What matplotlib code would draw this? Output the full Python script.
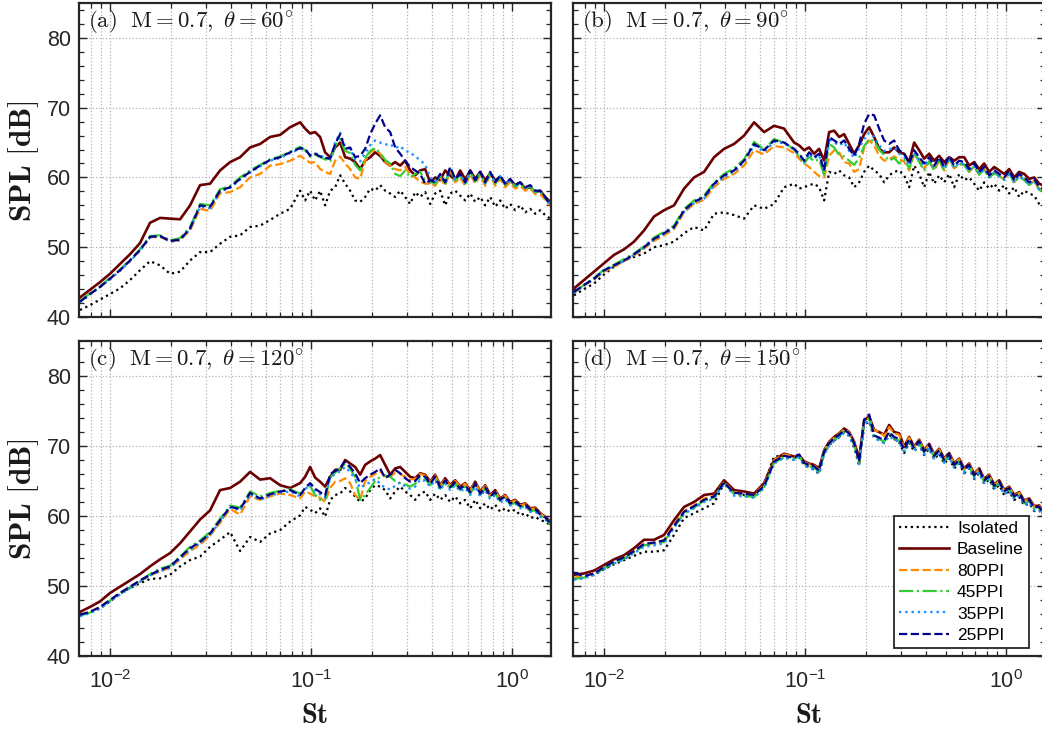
import numpy as np
import matplotlib
matplotlib.use("Agg")
import matplotlib.pyplot as plt
from matplotlib.ticker import MultipleLocator, LogLocator

# Strouhal number grid (shared by all panels)
st = [0.00709, 0.00795, 0.00892, 0.0100, 0.01121, 0.01258, 0.01410, 0.01581, 0.01773, 0.01989,
      0.02230, 0.02501, 0.02804, 0.03145, 0.03526, 0.03955, 0.04435, 0.04973, 0.05577, 0.06254,
      0.07013, 0.07864, 0.08819,
      0.09339, 0.09889, 0.1047, 0.1109, 0.1174, 0.1244, 0.1317, 0.1395, 0.1477, 0.1564,
      0.1656, 0.1754, 0.1857, 0.1967, 0.2083, 0.2205, 0.2335, 0.2473, 0.2619, 0.2773,
      0.2937, 0.3110, 0.3293, 0.3487, 0.3693, 0.3911, 0.4141, 0.4386, 0.4644, 0.4918,
      0.5208, 0.5515, 0.5840, 0.6184, 0.6549, 0.6935, 0.7343, 0.7776, 0.8235, 0.8720,
      0.9234, 0.9778, 1.0355, 1.0965, 1.161, 1.230, 1.302, 1.379, 1.460, 1.546]

# (a) theta = 60
iso_a = [41.0, 41.7, 42.5, 43.3, 44.1, 45.3, 46.7, 48.0, 47.4, 46.2, 46.5, 48.1, 49.3, 49.3, 50.5, 51.5, 51.7, 52.9, 53.1, 53.9, 54.8, 55.5, 58.1,
         56.7, 58.1, 56.7, 58.1, 56.0, 58.1, 58.6, 60.3, 59.1, 58.1, 56.7, 56.5, 57.2, 58.4, 58.1, 58.9, 58.1, 57.7, 57.2, 58.1, 57.2, 56.2, 57.9, 57.2, 57.9,
         56.2, 57.7, 58.1, 56.0, 57.7, 58.1, 57.4, 56.7, 57.7, 56.5, 57.2, 56.0, 57.2, 55.8, 56.7, 55.5, 56.2, 55.3, 56.0, 55.0, 55.5, 54.8, 55.3, 54.6, 54.1]
base_a = [42.8, 43.9, 45.0, 46.2, 47.6, 49.0, 50.6, 53.5, 54.2, 54.1, 54.0, 56.0, 58.9, 59.1, 61.0, 62.2, 62.9, 64.3, 64.8, 65.8, 66.1, 67.2, 67.9,
          67.0, 66.3, 66.5, 65.8, 63.6, 62.9, 64.3, 65.0, 62.9, 62.7, 62.2, 61.2, 62.4, 62.9, 63.6, 63.1, 62.2, 61.7, 62.2, 61.7, 62.4, 61.0, 60.3, 61.0, 61.2,
          59.3, 60.0, 59.6, 61.0, 60.3, 59.6, 61.0, 59.7, 61.0, 59.8, 60.8, 59.6, 60.6, 59.6, 60.0, 59.1, 59.6, 58.9, 59.3, 58.4, 58.6, 57.9, 58.1, 57.2, 56.5]
ppi80_a = [42.2, 43.3, 44.3, 45.5, 46.7, 48.1, 49.6, 51.4, 51.5, 50.8, 51.0, 52.4, 55.5, 55.2, 57.7, 57.9, 58.6, 60.0, 60.5, 61.7, 61.9, 62.4, 63.1,
           62.6, 62.1, 62.2, 61.2, 60.8, 60.5, 62.4, 63.0, 62.0, 61.2, 60.0, 59.8, 62.4, 63.6, 64.0, 63.4, 62.2, 61.7, 61.2, 61.0, 61.5, 60.4, 60.0, 59.4, 59.1,
           59.1, 58.8, 60.0, 58.8, 61.0, 59.3, 60.0, 58.8, 60.5, 59.1, 60.3, 58.8, 60.3, 58.8, 59.8, 58.6, 59.3, 58.4, 58.8, 58.1, 58.4, 57.6, 57.6, 56.8, 55.9]
ppi45_a = [42.3, 43.4, 44.4, 45.6, 46.8, 48.2, 49.7, 51.6, 51.7, 51.0, 51.3, 52.9, 56.2, 56.0, 58.3, 58.8, 60.0, 61.0, 61.8, 62.6, 63.0, 63.7, 64.4,
           63.9, 63.0, 63.3, 62.9, 62.6, 62.3, 64.5, 65.5, 63.8, 63.5, 61.8, 61.0, 62.8, 63.8, 64.2, 63.5, 62.5, 62.0, 60.5, 60.2, 61.0, 60.0, 60.5, 60.8, 59.5,
           59.4, 59.1, 60.3, 59.1, 61.3, 59.6, 60.3, 59.1, 60.8, 59.4, 60.6, 59.1, 60.6, 59.1, 60.1, 58.9, 59.6, 58.7, 59.1, 58.4, 58.7, 57.9, 57.9, 57.0, 56.2]
ppi35_a = [42.1, 43.2, 44.3, 45.4, 46.6, 48.0, 49.5, 51.4, 51.6, 50.8, 51.0, 52.6, 55.8, 55.6, 58.0, 58.5, 59.7, 60.7, 61.6, 62.4, 62.8, 63.5, 64.1,
           64.0, 63.2, 63.5, 63.1, 62.9, 62.6, 65.0, 66.4, 64.3, 64.1, 62.6, 62.3, 63.5, 64.6, 65.3, 65.0, 64.7, 64.8, 64.2, 64.5, 63.8, 63.6, 63.0, 62.5, 61.8,
           60.0, 59.4, 60.4, 59.2, 61.3, 59.7, 60.4, 59.2, 60.9, 59.5, 60.7, 59.2, 60.6, 59.2, 60.2, 59.0, 59.7, 58.8, 59.2, 58.5, 58.8, 58.0, 58.0, 57.1, 56.0]
ppi25_a = [42.2, 43.3, 44.3, 45.5, 46.7, 48.1, 49.6, 51.5, 51.6, 50.9, 51.1, 52.7, 56.0, 55.8, 58.1, 58.6, 59.8, 60.8, 61.7, 62.5, 62.9, 63.6, 64.2,
           64.1, 63.1, 63.4, 63.0, 62.8, 62.7, 64.8, 66.2, 64.1, 64.3, 62.9, 63.1, 64.1, 66.2, 67.7, 68.9, 67.2, 66.5, 64.3, 63.4, 62.4, 61.5, 61.0, 60.5, 59.1,
           59.6, 59.3, 60.5, 59.3, 61.5, 59.8, 60.5, 59.3, 61.0, 59.6, 60.8, 59.3, 60.8, 59.3, 60.3, 59.1, 59.8, 58.9, 59.3, 58.6, 58.9, 58.1, 58.1, 57.2, 56.0]

# (b) theta = 90
iso_b = [43.1, 44.0, 44.8, 46.1, 47.2, 48.1, 48.6, 49.1, 50.0, 50.3, 50.8, 52.0, 52.9, 52.4, 54.8, 55.0, 54.6, 54.1, 56.0, 55.5, 56.2, 58.6, 59.1,
         58.4, 58.6, 58.9, 59.1, 58.6, 56.7, 60.8, 60.5, 61.0, 60.3, 60.0, 58.6, 59.3, 60.8, 61.7, 61.0, 60.5, 59.3, 60.3, 60.8, 61.0, 60.3, 58.6, 61.7, 60.5,
         58.6, 60.8, 59.1, 60.3, 59.3, 60.5, 58.6, 60.5, 59.6, 60.0, 59.1, 58.1, 59.3, 58.4, 59.1, 58.1, 58.9, 57.7, 58.6, 57.2, 58.1, 57.7, 57.4, 56.2, 55.8]
base_b = [44.1, 45.3, 46.5, 47.7, 48.9, 49.7, 50.8, 52.4, 54.4, 55.3, 56.0, 58.4, 60.0, 60.8, 62.9, 64.1, 64.8, 66.0, 67.9, 66.5, 67.4, 67.0, 65.0,
          64.6, 63.9, 64.3, 63.4, 64.1, 62.4, 66.5, 66.7, 65.8, 66.2, 64.8, 63.4, 64.6, 66.2, 67.2, 65.8, 64.1, 63.6, 63.6, 64.3, 63.6, 63.4, 62.2, 65.0, 63.9,
          62.7, 63.4, 62.4, 63.1, 62.2, 62.9, 62.4, 62.9, 62.9, 61.7, 62.2, 61.2, 62.0, 60.8, 61.5, 61.0, 60.5, 61.2, 60.0, 60.8, 60.5, 59.8, 60.0, 59.1, 58.8]
ppi80_b = [43.5, 44.5, 45.4, 46.5, 47.2, 48.0, 48.8, 49.8, 50.9, 51.7, 52.6, 55.0, 56.2, 56.8, 58.6, 59.8, 60.5, 61.7, 63.9, 63.3, 64.5, 64.3, 63.5,
           62.7, 62.0, 61.5, 60.8, 60.2, 60.0, 63.1, 63.9, 63.6, 62.2, 62.0, 60.8, 61.2, 64.3, 65.3, 64.6, 63.1, 62.4, 62.6, 63.0, 62.6, 62.3, 61.0, 63.3, 62.5,
           61.3, 62.5, 61.1, 62.3, 61.0, 62.5, 61.3, 61.9, 61.8, 60.8, 61.6, 60.4, 61.2, 60.0, 60.7, 60.2, 59.7, 60.7, 59.3, 60.2, 59.7, 59.0, 59.5, 58.3, 58.0]
ppi45_b = [43.5, 44.6, 45.6, 46.8, 47.5, 48.3, 49.1, 50.1, 51.4, 52.2, 53.1, 55.5, 56.7, 57.4, 59.3, 60.5, 61.3, 62.6, 65.1, 64.0, 65.5, 65.0, 64.0,
           63.0, 62.0, 63.0, 62.3, 62.6, 60.3, 64.8, 64.3, 63.2, 63.0, 62.4, 61.8, 62.8, 64.5, 65.5, 65.2, 64.0, 63.2, 62.4, 62.8, 62.0, 62.6, 61.3, 63.5, 62.2,
           61.0, 62.3, 61.0, 62.5, 61.0, 62.8, 61.3, 62.0, 61.8, 60.8, 61.6, 60.4, 61.1, 60.0, 60.6, 60.2, 59.6, 60.6, 59.2, 60.1, 59.6, 58.9, 59.4, 58.2, 58.0]
ppi35_b = [43.4, 44.5, 45.4, 46.6, 47.3, 48.0, 48.9, 49.9, 51.1, 51.9, 52.8, 55.1, 56.3, 57.0, 58.9, 60.1, 60.8, 62.2, 64.6, 63.7, 65.1, 64.9, 64.0,
           63.2, 62.2, 63.4, 62.7, 63.2, 60.8, 65.5, 65.0, 64.6, 65.0, 63.8, 62.8, 64.2, 65.5, 66.4, 65.8, 64.6, 63.8, 64.0, 64.3, 63.4, 63.0, 61.7, 63.6, 62.6,
           61.7, 62.6, 61.4, 62.6, 61.2, 62.8, 61.4, 62.1, 61.9, 60.9, 61.7, 60.5, 61.2, 60.0, 60.7, 60.2, 59.7, 60.7, 59.3, 60.2, 59.7, 59.0, 59.5, 58.3, 58.0]
ppi25_b = [43.6, 44.6, 45.5, 46.7, 47.4, 48.1, 49.0, 50.0, 51.2, 52.0, 52.9, 55.3, 56.5, 57.2, 59.1, 60.3, 61.0, 62.4, 64.8, 63.9, 65.3, 65.0, 64.1,
           63.4, 62.4, 63.6, 62.9, 63.4, 61.0, 65.8, 65.3, 64.8, 65.3, 64.1, 63.1, 64.8, 67.7, 69.1, 68.9, 67.0, 65.3, 64.8, 65.3, 63.9, 63.4, 62.0, 63.9, 62.9,
           62.0, 62.9, 61.7, 62.9, 61.5, 63.1, 61.7, 62.4, 62.2, 61.2, 62.0, 60.8, 61.5, 60.3, 61.0, 60.5, 60.0, 61.0, 59.6, 60.5, 60.0, 59.3, 59.8, 58.6, 58.3]

# (c) theta = 120
iso_c = [45.9, 46.2, 46.8, 47.8, 48.9, 49.7, 50.4, 51.0, 51.1, 51.6, 52.8, 53.7, 54.2, 55.6, 56.6, 57.7, 55.0, 57.0, 56.3, 57.5, 58.0, 59.2, 60.1,
         61.3, 60.9, 60.4, 61.1, 59.9, 62.3, 63.0, 63.2, 64.0, 63.5, 62.8, 62.0, 62.5, 63.7, 64.4, 64.2, 63.7, 62.5, 63.5, 64.2, 63.5, 63.0, 62.3, 63.2, 63.5,
         62.3, 63.2, 62.3, 63.0, 62.0, 62.8, 61.8, 62.3, 61.1, 62.3, 61.1, 61.8, 60.9, 61.6, 60.6, 61.1, 60.6, 60.9, 60.1, 60.4, 59.7, 59.9, 59.4, 59.2, 58.7]
base_c = [46.3, 47.0, 47.8, 49.0, 49.9, 50.8, 51.7, 52.8, 53.8, 54.7, 56.1, 57.8, 59.5, 60.8, 63.7, 64.0, 64.9, 66.3, 65.2, 65.4, 64.4, 64.0, 64.7,
          65.6, 67.0, 65.5, 64.9, 64.2, 65.6, 66.6, 66.6, 68.0, 67.5, 67.0, 65.9, 67.3, 67.8, 68.2, 68.7, 67.3, 65.9, 66.8, 67.0, 66.3, 65.6, 65.4, 66.1, 65.9,
          64.9, 65.9, 64.4, 65.4, 64.4, 65.1, 64.2, 64.7, 63.7, 64.9, 63.5, 64.4, 63.0, 63.7, 62.5, 63.0, 62.0, 62.3, 61.6, 61.8, 61.1, 61.2, 60.4, 59.9, 59.2]
ppi80_c = [45.9, 46.3, 47.0, 48.0, 49.0, 49.9, 50.7, 51.5, 52.1, 52.6, 53.8, 55.0, 55.9, 57.2, 59.0, 61.0, 60.2, 62.8, 62.3, 62.8, 63.2, 63.0, 62.5,
           63.5, 63.2, 62.8, 62.6, 62.0, 64.0, 64.9, 65.0, 65.4, 64.7, 63.0, 62.3, 65.0, 65.6, 66.0, 66.4, 65.6, 65.6, 66.2, 66.0, 65.6, 65.2, 65.3, 66.0, 65.8,
           64.8, 65.8, 64.3, 65.3, 64.3, 65.0, 64.1, 64.6, 63.6, 64.8, 63.4, 64.3, 62.9, 63.6, 62.4, 62.9, 61.9, 62.2, 61.5, 61.7, 61.0, 61.1, 60.3, 59.9, 59.1]
ppi45_c = [45.8, 46.2, 46.9, 47.9, 48.9, 49.8, 50.7, 51.7, 52.5, 52.9, 54.2, 55.6, 56.5, 57.7, 59.6, 61.5, 61.2, 63.5, 62.8, 63.3, 63.6, 63.8, 63.2,
           63.9, 64.3, 63.0, 62.3, 62.3, 65.5, 66.2, 66.8, 67.5, 66.8, 65.5, 62.3, 63.0, 64.0, 65.0, 65.6, 65.8, 65.6, 65.0, 64.7, 64.5, 64.2, 64.6, 65.4, 65.3,
           64.4, 65.3, 63.9, 64.9, 63.9, 64.6, 63.7, 64.2, 63.2, 64.4, 63.0, 63.9, 62.6, 63.2, 62.1, 62.6, 61.6, 61.9, 61.2, 61.4, 60.7, 60.8, 60.0, 59.6, 58.8]
ppi35_c = [45.7, 46.1, 46.8, 47.8, 48.8, 49.7, 50.6, 51.5, 52.1, 52.6, 53.9, 55.2, 56.1, 57.3, 59.2, 61.2, 60.8, 63.1, 62.3, 62.9, 63.3, 63.5, 62.8,
           63.8, 64.5, 63.6, 63.1, 62.6, 65.5, 66.0, 66.4, 67.0, 66.3, 65.3, 64.0, 64.5, 64.8, 65.3, 64.6, 64.0, 63.8, 64.3, 64.8, 64.2, 63.9, 64.2, 65.2, 65.0,
           64.2, 65.1, 63.7, 64.7, 63.7, 64.4, 63.5, 64.0, 63.0, 64.2, 62.8, 63.7, 62.4, 63.0, 61.9, 62.4, 61.5, 61.8, 61.1, 61.3, 60.6, 60.7, 59.9, 59.5, 58.8]
ppi25_c = [45.9, 46.3, 47.0, 48.0, 49.0, 49.9, 50.8, 51.6, 52.3, 52.8, 54.1, 55.4, 56.3, 57.5, 59.4, 61.3, 61.0, 63.3, 62.5, 63.1, 63.5, 63.7, 63.0,
           64.0, 64.7, 63.9, 63.4, 62.9, 66.0, 66.4, 66.9, 67.8, 67.0, 66.1, 64.7, 65.4, 65.9, 66.3, 66.8, 65.4, 65.9, 66.6, 66.1, 65.4, 64.9, 65.0, 65.8, 65.6,
           64.6, 65.6, 64.1, 65.1, 64.1, 64.8, 63.9, 64.4, 63.4, 64.6, 63.2, 64.1, 62.8, 63.4, 62.3, 62.8, 61.8, 62.1, 61.4, 61.6, 60.9, 61.0, 60.2, 59.8, 59.0]

# (d) theta = 150
iso_d = [51.0, 51.2, 51.6, 52.4, 53.1, 53.7, 54.3, 54.9, 54.9, 55.1, 57.3, 59.7, 60.4, 61.1, 61.8, 64.7, 63.5, 63.0, 62.8, 64.6, 68.5, 68.6, 68.4,
         68.5, 67.3, 67.0, 66.6, 66.0, 69.0, 70.1, 70.8, 71.3, 72.0, 71.5, 69.8, 67.2, 73.0, 73.5, 71.2, 70.9, 70.5, 71.6, 71.0, 70.5, 69.0, 70.5, 69.2, 70.2,
         68.7, 69.6, 68.1, 68.9, 67.5, 68.3, 66.8, 67.5, 66.1, 66.8, 65.3, 66.1, 64.6, 65.2, 63.8, 64.4, 63.0, 63.5, 62.3, 62.7, 61.5, 61.8, 60.7, 60.8, 59.7]
base_d = [51.6, 51.8, 52.2, 53.0, 53.8, 54.4, 55.4, 56.6, 56.6, 57.3, 59.4, 61.3, 62.0, 63.0, 63.2, 65.1, 63.7, 63.5, 63.2, 64.7, 68.0, 68.9, 68.5,
          68.7, 67.8, 67.5, 67.3, 66.8, 69.4, 70.6, 71.3, 71.8, 72.5, 72.0, 70.6, 68.2, 73.7, 74.2, 72.3, 72.0, 71.6, 73.0, 72.0, 71.8, 69.9, 71.3, 69.9, 70.9,
          69.4, 70.3, 68.8, 69.6, 68.2, 69.0, 67.5, 68.2, 66.8, 67.5, 66.0, 66.8, 65.3, 65.9, 64.5, 65.1, 63.7, 64.2, 63.0, 63.4, 62.2, 62.5, 61.4, 61.5, 60.4]
ppi80_d = [51.2, 51.4, 51.9, 52.7, 53.5, 54.1, 55.0, 56.0, 56.1, 56.6, 58.8, 60.7, 61.5, 62.5, 62.9, 64.9, 63.4, 63.2, 63.0, 64.5, 68.0, 68.8, 68.5,
           68.6, 67.7, 67.4, 67.2, 66.6, 69.3, 70.5, 71.2, 71.7, 72.4, 71.9, 70.5, 67.5, 73.5, 74.0, 72.2, 72.1, 71.4, 72.7, 71.8, 71.6, 69.8, 71.2, 69.8, 70.8,
           69.3, 70.2, 68.7, 69.5, 68.1, 68.9, 67.4, 68.1, 66.7, 67.4, 65.9, 66.7, 65.2, 65.8, 64.4, 65.0, 63.6, 64.1, 62.9, 63.3, 62.1, 62.4, 61.3, 61.4, 60.3]
ppi45_d = [51.0, 51.2, 51.7, 52.5, 53.3, 53.9, 54.8, 55.8, 56.0, 56.3, 58.4, 60.4, 61.2, 62.2, 62.6, 64.8, 63.1, 62.9, 62.7, 64.1, 67.6, 68.4, 68.1,
           68.6, 67.4, 67.1, 66.9, 66.3, 69.0, 70.2, 70.9, 71.4, 72.1, 71.6, 70.2, 67.6, 73.3, 73.9, 71.3, 71.0, 70.6, 71.8, 71.1, 70.8, 69.3, 70.8, 69.5, 70.5,
           69.0, 69.9, 68.4, 69.2, 67.8, 68.6, 67.1, 67.8, 66.4, 67.1, 65.6, 66.4, 64.9, 65.5, 64.1, 64.7, 63.3, 63.8, 62.6, 63.0, 61.8, 62.1, 61.0, 61.1, 60.0]
ppi35_d = [50.9, 51.1, 51.6, 52.4, 53.2, 53.8, 54.7, 55.6, 55.8, 56.1, 58.3, 60.3, 61.1, 62.0, 62.5, 64.6, 62.9, 62.8, 62.6, 64.0, 67.5, 68.3, 68.0,
           68.4, 67.2, 66.9, 66.7, 66.1, 68.8, 70.0, 70.7, 71.2, 71.9, 71.4, 70.0, 67.4, 73.2, 73.6, 71.1, 70.8, 70.4, 71.4, 70.9, 70.6, 69.1, 70.6, 69.3, 70.3,
           68.8, 69.7, 68.2, 69.0, 67.6, 68.4, 66.9, 67.6, 66.2, 66.9, 65.4, 66.2, 64.7, 65.3, 63.9, 64.5, 63.1, 63.6, 62.4, 62.8, 61.6, 61.9, 60.8, 60.9, 59.8]
ppi25_d = [51.9, 51.4, 51.8, 52.7, 53.5, 54.1, 55.0, 56.0, 56.2, 56.5, 58.6, 60.6, 61.4, 62.3, 62.8, 64.8, 63.3, 63.2, 63.0, 64.3, 67.8, 68.6, 68.3,
           68.8, 67.6, 67.3, 67.1, 66.5, 69.2, 70.4, 71.1, 71.6, 72.3, 71.8, 70.4, 67.8, 73.8, 74.5, 71.5, 71.2, 70.8, 72.0, 71.3, 71.0, 69.5, 71.0, 69.7, 70.7,
           69.2, 70.1, 68.6, 69.4, 68.0, 68.8, 67.3, 68.0, 66.6, 67.3, 65.8, 66.6, 65.1, 65.7, 64.3, 64.9, 63.5, 64.0, 62.8, 63.2, 62.0, 62.3, 61.2, 61.3, 60.2]

labels = ["Isolated", "Baseline", "80PPI", "45PPI", "35PPI", "25PPI"]
panel_titles = ["(a)", "(b)", "(c)", "(d)"]
angles = [60, 90, 120, 150]

panels = [
    [iso_a, base_a, ppi80_a, ppi45_a, ppi35_a, ppi25_a],
    [iso_b, base_b, ppi80_b, ppi45_b, ppi35_b, ppi25_b],
    [iso_c, base_c, ppi80_c, ppi45_c, ppi35_c, ppi25_c],
    [iso_d, base_d, ppi80_d, ppi45_d, ppi35_d, ppi25_d],
]

# line styles (colour, linestyle, width)
styles = [("black", ":", 1.6),
          ("#6a0000", "-", 1.9),
          ("#ff8c00", "--", 1.6),
          ("#33cc33", "-.", 1.6),
          ("#1e90ff", ":", 1.7),
          ("#00008b", "--", 1.6)]

plt.rcParams["font.family"] = ["Liberation Sans", "DejaVu Sans"]
plt.rcParams["mathtext.fontset"] = "custom"
plt.rcParams["mathtext.rm"] = "Liberation Sans"
plt.rcParams["mathtext.it"] = "Liberation Sans:italic"
plt.rcParams["mathtext.bf"] = "Liberation Sans:bold"

W, H = 1042, 731
fig = plt.figure(figsize=(W / 100, H / 100), dpi=100)

# axes boxes in pixels: left, top, right, bottom
boxes = [(79, 3, 551, 317), (573, 3, 1045, 317), (79, 341, 551, 656), (573, 341, 1045, 656)]
spine_col = "#262626"

for i, (x0, y0, x1, y1) in enumerate(boxes):
    ax = fig.add_axes([x0 / W, 1 - y1 / H, (x1 - x0) / W, (y1 - y0) / H])
    ax.set_xscale("log")
    for vals, lab, (c, ls, lw) in zip(panels[i], labels, styles):
        ax.plot(st, vals, color=c, ls=ls, lw=lw, label=lab)
    ax.set_xlim(0.00701, 1.56)
    ax.set_ylim(40, 85)
    ax.yaxis.set_major_locator(MultipleLocator(10))
    ax.yaxis.set_minor_locator(MultipleLocator(2))
    ax.xaxis.set_major_locator(LogLocator(base=10, numticks=10))
    ax.xaxis.set_minor_locator(LogLocator(base=10, subs=np.arange(2, 10), numticks=20))
    ax.grid(True, which="major", ls=":", color="#b4b4b4", lw=0.9)
    ax.grid(True, which="minor", axis="x", ls=":", color="#b4b4b4", lw=0.9)
    ax.set_axisbelow(True)
    ax.tick_params(which="both", direction="in", top=True, right=True,
                   color=spine_col, labelsize=15.5, labelcolor="#262626")
    ax.tick_params(which="major", length=6, width=1.0)
    ax.tick_params(which="minor", length=3.5, width=0.9)
    ax.tick_params(axis="x", which="major", pad=10)
    ax.tick_params(axis="y", which="major", pad=6)
    for sp in ax.spines.values():
        sp.set_linewidth(1.6)
        sp.set_color(spine_col)
    if i % 2 == 1:
        ax.tick_params(labelleft=False)
    if i < 2:
        ax.tick_params(labelbottom=False)
    txt = r"$\mathrm{%s}\ \ \mathrm{M} = 0.7,\ \theta = %d^{\circ}$" % (panel_titles[i], angles[i])
    ax.text(0.019, 0.985, txt, transform=ax.transAxes, ha="left", va="top",
            fontsize=16.5, math_fontfamily="cm", color="#1a1a1a")
    if i == 3:
        leg = ax.legend(loc="lower right", bbox_to_anchor=(0.966, 0.025), fontsize=12.5,
                        frameon=True, fancybox=False, framealpha=1, edgecolor=spine_col,
                        handlelength=2.9, handletextpad=0.45, labelspacing=0.36,
                        borderpad=0.3, borderaxespad=0)
        leg.get_frame().set_linewidth(1.3)

# axis labels
for yc in [161, 499]:
    fig.text(24 / W, 1 - yc / H, r"$\mathbf{SPL\ [dB]}$", rotation=90, ha="center",
             va="center", fontsize=22.5, math_fontfamily="cm", color="#1a1a1a")
for xc in [315, 809]:
    fig.text(xc / W, 1 - 716 / H, r"$\mathbf{St}$", ha="center", va="center",
             fontsize=20.5, math_fontfamily="cm", color="#1a1a1a")

fig.savefig("out.png", dpi=100)
